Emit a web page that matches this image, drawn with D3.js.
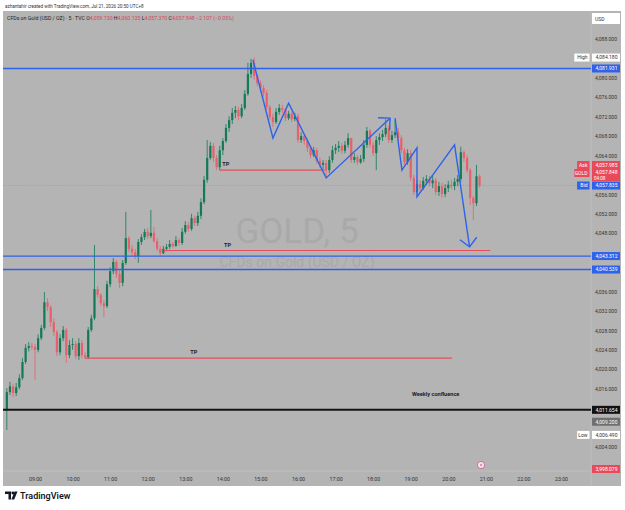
<!DOCTYPE html>
<html>
<head>
<meta charset="utf-8">
<script src="https://cdn.jsdelivr.net/npm/d3@7"></script>
<style>
  html, body { margin: 0; padding: 0; background: #fff; }
  svg { display: block; font-family: Roboto, "Noto Sans", sans-serif; }
</style>
</head>
<body>
<div id="app"></div>
<script>
// ---- 数据 (GOLD 5m, 08:15 起每根 5 分钟) ----
const firstOpen = 4011.6;

const closes = [
  4015.3, 4016.5, 4015.1, 4016.3, 4018.2, 4021.5, 4024.4, 4024.8, 4024.6, 4024.0,
  4026.4, 4028.5, 4033.8, 4032.8, 4029.7, 4027.7, 4023.5, 4026.4, 4028.1, 4022.9,
  4025.0, 4025.2, 4022.7, 4025.4, 4022.9, 4022.5, 4028.1, 4030.5, 4036.5, 4035.3,
  4033.6, 4033.0, 4037.5, 4040.2, 4042.1, 4039.6, 4037.8, 4041.9, 4047.0, 4044.8,
  4044.1, 4043.3, 4046.2, 4047.2, 4048.3, 4047.4, 4048.1, 4046.4, 4044.8, 4043.9,
  4044.8, 4045.2, 4045.8, 4045.4, 4046.6, 4046.0, 4048.3, 4049.7, 4048.9, 4051.1,
  4050.1, 4051.6, 4054.4, 4059.0, 4063.5, 4066.0, 4063.5, 4061.6, 4065.1, 4067.0,
  4069.7, 4071.3, 4072.8, 4073.4, 4072.1, 4073.8, 4076.7, 4080.8, 4083.1, 4080.4,
  4078.9, 4077.9, 4076.9, 4074.0, 4071.9, 4070.9, 4073.0, 4073.8, 4073.4, 4071.7,
  4072.6, 4071.5, 4072.1, 4067.2, 4068.0, 4067.0, 4065.6, 4064.1, 4065.1, 4062.9,
  4062.1, 4062.5, 4061.0, 4063.1, 4065.1, 4065.6, 4066.0, 4065.0, 4066.2, 4067.6,
  4063.1, 4063.7, 4062.6, 4063.3, 4066.2, 4069.1, 4066.2, 4064.5, 4067.2, 4067.8,
  4068.4, 4069.7, 4067.2, 4068.2, 4068.8, 4067.6, 4065.1, 4062.7, 4064.5, 4059.4,
  4056.5, 4058.1, 4057.3, 4058.8, 4059.2, 4058.3, 4058.9, 4056.5, 4057.7, 4056.1,
  4057.3, 4058.0, 4057.7, 4058.6, 4059.2, 4064.7, 4063.5, 4061.0, 4055.3, 4054.2,
  4059.73, 4057.848
];

const highs = [
  4016.1, 4017.4, 4016.9, 4017.2, 4019.0, 4022.3, 4025.2, 4025.6, 4025.4, 4025.2,
  4027.2, 4029.1, 4035.9, 4034.6, 4033.2, 4030.5, 4028.1, 4027.2, 4028.9, 4028.5,
  4026.0, 4026.4, 4025.8, 4026.4, 4026.0, 4023.5, 4028.7, 4031.2, 4045.6, 4037.1,
  4035.7, 4034.3, 4038.2, 4041.0, 4042.9, 4042.5, 4040.4, 4042.5, 4052.4, 4047.4,
  4045.6, 4044.8, 4046.8, 4047.8, 4048.9, 4049.1, 4052.8, 4049.3, 4047.0, 4045.4,
  4045.4, 4045.8, 4046.6, 4046.2, 4047.4, 4047.0, 4049.1, 4050.5, 4050.3, 4052.0,
  4051.6, 4052.4, 4055.2, 4059.8, 4067.2, 4066.8, 4066.6, 4064.1, 4066.0, 4067.6,
  4070.5, 4072.1, 4073.8, 4074.2, 4074.0, 4074.6, 4077.5, 4083.1, 4083.9, 4084.18,
  4080.8, 4079.6, 4078.5, 4077.5, 4074.4, 4072.6, 4073.8, 4074.6, 4074.4, 4073.8,
  4073.2, 4073.0, 4072.8, 4072.6, 4068.8, 4068.4, 4067.6, 4066.0, 4065.8, 4065.6,
  4063.6, 4063.1, 4063.1, 4063.9, 4066.0, 4066.4, 4067.0, 4066.6, 4067.0, 4068.6,
  4067.6, 4064.5, 4064.1, 4064.1, 4067.2, 4069.9, 4069.5, 4066.8, 4068.0, 4068.6,
  4069.3, 4071.5, 4070.1, 4069.1, 4071.3, 4069.7, 4068.2, 4065.6, 4065.3, 4065.1,
  4060.0, 4058.9, 4058.8, 4059.6, 4060.0, 4059.8, 4059.8, 4059.4, 4058.6, 4058.4,
  4058.1, 4058.8, 4059.0, 4059.4, 4060.0, 4065.8, 4065.1, 4064.1, 4061.4, 4055.7,
  4062.1, 4060.135
];

const lows = [
  4007.5, 4014.7, 4014.3, 4014.5, 4015.9, 4017.8, 4021.1, 4023.7, 4024.0, 4017.8,
  4023.5, 4026.0, 4028.1, 4032.0, 4028.7, 4026.9, 4022.7, 4022.9, 4025.8, 4021.3,
  4022.3, 4024.0, 4022.1, 4021.9, 4022.3, 4022.1, 4022.1, 4027.7, 4030.1, 4034.7,
  4033.0, 4030.8, 4032.6, 4036.9, 4039.6, 4038.8, 4036.7, 4037.1, 4041.5, 4044.1,
  4043.5, 4042.7, 4041.9, 4045.6, 4046.6, 4046.8, 4047.0, 4046.0, 4044.3, 4043.3,
  4043.7, 4044.3, 4044.8, 4045.0, 4045.2, 4045.4, 4045.6, 4047.9, 4048.3, 4048.5,
  4049.5, 4049.5, 4050.9, 4054.0, 4058.4, 4063.1, 4062.7, 4061.0, 4061.0, 4064.1,
  4066.6, 4068.9, 4070.5, 4071.7, 4071.3, 4071.7, 4073.4, 4076.3, 4080.0, 4079.6,
  4078.3, 4077.1, 4076.1, 4073.4, 4071.3, 4069.9, 4070.5, 4072.4, 4072.8, 4071.1,
  4071.3, 4070.9, 4071.1, 4066.6, 4066.6, 4066.2, 4064.7, 4063.5, 4063.7, 4062.3,
  4061.4, 4061.2, 4059.6, 4060.4, 4062.5, 4064.3, 4064.7, 4064.3, 4064.5, 4065.6,
  4062.5, 4062.5, 4062.1, 4062.3, 4062.7, 4065.6, 4065.6, 4063.9, 4061.0, 4066.2,
  4067.0, 4067.8, 4066.6, 4066.6, 4067.6, 4067.0, 4064.5, 4062.1, 4062.1, 4058.8,
  4055.9, 4056.1, 4056.7, 4056.9, 4058.0, 4057.7, 4057.3, 4055.9, 4055.7, 4055.3,
  4055.5, 4056.5, 4057.1, 4056.9, 4057.7, 4058.6, 4062.7, 4060.4, 4053.8, 4050.7,
  4053.6, 4057.37
];

// 价格刻度 & 时间刻度
const priceTicks = [4000, 4004, 4008, 4012, 4016, 4020, 4024, 4028, 4032, 4036, 4040, 4044,
  4048, 4052, 4056, 4060, 4064, 4068, 4072, 4076, 4080, 4084, 4088];
const timeTicks = ['09:00', '10:00', '11:00', '12:00', '13:00', '14:00', '15:00', '16:00',
  '17:00', '18:00', '19:00', '20:00', '21:00', '22:00', '23:00'];

// 水平线 (蓝 / 黑)
const blueLevels = [4081.931, 4043.312, 4040.539];
const blackLevels = [4011.654];

// TP 线: 起止时间, 价格, 标签位置
const tpLines = [
  { from: '13:55', to: '16:43', price: 4061.0, labelAt: '13:59' },
  { from: '12:25', to: '21:07', price: 4044.45, labelAt: '14:02' },
  { from: '10:20', to: '20:06', price: 4022.3, labelAt: '13:08' }
];

// 蓝色折线箭头
const zigzags = [
  [['14:48', 4083.7], ['15:20', 4067.6], ['15:45', 4074.8], ['16:45', 4059.4], ['18:27', 4071.7]],
  [['18:35', 4071.7], ['18:46', 4061.0], ['19:10', 4065.6], ['19:10', 4055.5], ['20:10', 4066.2], ['20:34', 4045.2]]
];

const noteText = { time: '19:02', price: 4014.5, text: 'Weekly confluence' };

// 右侧价格标签
const lastPrice = { ask: 4057.985, gold: 4057.848, bid: 4057.835, countdown: '04:08' };
const levelTags = [
  { price: 4084.180, kind: 'white', side: 'High' },
  { price: 4081.931, kind: 'blue' },
  { price: 4043.312, kind: 'blue' },
  { price: 4040.539, kind: 'blue' },
  { price: 4011.654, kind: 'black' },
  { price: 4009.200, kind: 'gray' },
  { price: 4006.490, kind: 'white', side: 'Low' },
  { price: 3998.079, kind: 'red' }
];

const legendValues = [['O', '4,059.730'], ['H', '4,060.135'], ['L', '4,057.370'], ['C', '4,057.848']];
const legendChange = '\u22122.107 (\u22120.05%)';

// ---- 样式 ----
const BG = '#b4b4b4';
const UP = '#127a57';
const DOWN = '#e8606b';
const BLUE = '#2f62ea';
const RED_TAG = '#e84a5a';

const parseT = d3.timeParse('%Y-%m-%d %H:%M');
const T = s => parseT('2026-07-21 ' + s);
const fmtPrice = d3.format(',.3f');

let svg, x, y;
const W = 625, H = 510;
const plot = { left: 3, right: 591, top: 11, bottom: 471 };
let tagCenters = [];

function init() {
  svg = d3.select('#app').append('svg')
    .attr('width', W).attr('height', H);

  x = d3.scaleTime().domain([T('09:00'), T('23:00')]).range([35, 561]);
  y = d3.scaleLinear().domain([4004, 4088]).range([447, 39]);

  // 背景
  svg.append('rect').attr('x', 3).attr('y', 11).attr('width', 618).attr('height', 475).attr('fill', BG);

  svg.append('defs').append('clipPath').attr('id', 'plotClip')
    .append('rect')
    .attr('x', plot.left).attr('y', plot.top)
    .attr('width', plot.right - plot.left).attr('height', plot.bottom - plot.top);

  // 分隔线
  svg.append('line').attr('x1', plot.right).attr('x2', plot.right).attr('y1', 11).attr('y2', 486)
    .attr('stroke', '#c6c6c6').attr('stroke-width', 0.6);
  svg.append('line').attr('x1', 3).attr('x2', plot.right).attr('y1', plot.bottom).attr('y2', plot.bottom)
    .attr('stroke', '#c6c6c6').attr('stroke-width', 0.6);

  const g = svg.append('g').attr('clip-path', 'url(#plotClip)');

  // 水印
  g.append('text').attr('x', 297).attr('y', 243).attr('text-anchor', 'middle')
    .attr('font-size', 35).attr('fill', '#a9a9a9').text('GOLD, 5');
  g.append('text').attr('x', 297).attr('y', 267).attr('text-anchor', 'middle')
    .attr('font-size', 14).attr('fill', '#a9a9a9').text('CFDs on Gold (USD / OZ)');

  // 当前价虚线
  g.append('line').attr('x1', plot.left).attr('x2', plot.right)
    .attr('y1', y(lastPrice.gold)).attr('y2', y(lastPrice.gold))
    .attr('stroke', '#8e8e8e').attr('stroke-width', 0.6).attr('stroke-dasharray', '1,1.5');

  drawCandles(g);
  drawLevels(g);
  drawTags();
  drawAxes();
  drawHeader();
}

function drawCandles(g) {
  const start = T('08:15');
  const candles = closes.map((c, i) => ({
    t: d3.timeMinute.offset(start, 5 * i),
    o: i === 0 ? firstOpen : closes[i - 1],
    h: highs[i],
    l: lows[i],
    c
  }));
  const color = d => (d.c >= d.o ? UP : DOWN);

  const cg = g.append('g').attr('class', 'candles');
  cg.selectAll('line')
    .data(candles)
    .join('line')
    .attr('x1', d => x(d.t)).attr('x2', d => x(d.t))
    .attr('y1', d => y(d.h)).attr('y2', d => y(d.l))
    .attr('stroke', color).attr('stroke-width', 0.8);

  cg.selectAll('rect')
    .data(candles)
    .join('rect')
    .attr('x', d => x(d.t) - 1.1)
    .attr('width', 2.2)
    .attr('y', d => y(Math.max(d.o, d.c)))
    .attr('height', d => Math.max(0.7, Math.abs(y(d.o) - y(d.c))))
    .attr('fill', color);
}

function drawLevels(g) {
  // 蓝线
  g.selectAll('line.blue')
    .data(blueLevels)
    .join('line').attr('class', 'blue')
    .attr('x1', plot.left).attr('x2', plot.right)
    .attr('y1', d => y(d)).attr('y2', d => y(d))
    .attr('stroke', BLUE).attr('stroke-width', 1.3);

  g.selectAll('line.black')
    .data(blackLevels)
    .join('line').attr('class', 'black')
    .attr('x1', plot.left).attr('x2', plot.right)
    .attr('y1', d => y(d)).attr('y2', d => y(d))
    .attr('stroke', '#131313').attr('stroke-width', 2);

  // TP 线
  g.selectAll('line.tp')
    .data(tpLines)
    .join('line').attr('class', 'tp')
    .attr('x1', d => x(T(d.from))).attr('x2', d => x(T(d.to)))
    .attr('y1', d => y(d.price)).attr('y2', d => y(d.price))
    .attr('stroke', '#e5505c').attr('stroke-width', 1.1);

  g.selectAll('text.tp')
    .data(tpLines)
    .join('text').attr('class', 'tp')
    .attr('x', d => x(T(d.labelAt))).attr('y', d => y(d.price) - 4)
    .attr('font-size', 5.5).attr('font-weight', 700).attr('fill', '#222')
    .text('TP');

  g.append('text')
    .attr('x', x(T(noteText.time))).attr('y', y(noteText.price))
    .attr('font-size', 5.6).attr('font-weight', 700).attr('fill', '#1e1e1e')
    .text(noteText.text);

  // 蓝色折线 + 箭头
  const line = d3.line().x(d => x(T(d[0]))).y(d => y(d[1]));
  zigzags.forEach(pts => {
    g.append('path').attr('d', line(pts))
      .attr('fill', 'none').attr('stroke', BLUE).attr('stroke-width', 1.4)
      .attr('stroke-linejoin', 'miter');

    const a = pts[pts.length - 2], b = pts[pts.length - 1];
    const bx = x(T(b[0])), by = y(b[1]);
    const ang = Math.atan2(y(a[1]) - by, x(T(a[0])) - bx);
    const len = 12;
    const wing = d => [bx + len * Math.cos(ang + d), by + len * Math.sin(ang + d)];
    g.append('path')
      .attr('d', d3.line()([wing(Math.PI / 4), [bx, by], wing(-Math.PI / 4)]))
      .attr('fill', 'none').attr('stroke', BLUE).attr('stroke-width', 1.4);
  });

  // 小图标
  svg.append('circle').attr('cx', 481).attr('cy', 465).attr('r', 3.6)
    .attr('fill', '#f4e6ee').attr('stroke', '#c94c86').attr('stroke-width', 0.7);
  svg.append('path').attr('d', 'M481.8,462.6 L479.9,465.4 L481.3,465.4 L480.4,467.6 L482.4,464.6 L481.0,464.6 Z')
    .attr('fill', '#c94c86');
}

function drawAxes() {
  const yAxis = d3.axisRight(y)
    .tickValues(priceTicks)
    .tickFormat(fmtPrice)
    .tickSize(0);

  const ya = svg.insert('g', '.tags').attr('transform', `translate(${plot.right},0)`).call(yAxis);
  ya.select('.domain').remove();
  ya.selectAll('text')
    .attr('x', 26).attr('text-anchor', 'end')
    .attr('font-size', 5).attr('fill', '#333')
    .attr('font-family', 'Roboto, sans-serif');
  // 被标签遮住的刻度不显示
  ya.selectAll('.tick')
    .filter(d => tagCenters.some(c => Math.abs(y(d) - c[0]) < c[1] / 2 + 3))
    .remove();

  const xAxis = d3.axisBottom(x)
    .tickValues(timeTicks.map(T))
    .tickFormat(d3.timeFormat('%H:%M'))
    .tickSize(0);

  const xa = svg.append('g').attr('transform', `translate(0,${plot.bottom + 3})`).call(xAxis);
  xa.select('.domain').remove();
  xa.selectAll('text')
    .attr('font-size', 5.3).attr('fill', '#333')
    .attr('font-family', 'Roboto, sans-serif');
}

// 价格标签
function tagBox(tg, cy, text, fill, color) {
  tagCenters.push([cy, 8]);
  tg.append('rect').attr('x', plot.right + 1).attr('y', cy - 4).attr('width', 28).attr('height', 8)
    .attr('fill', fill);
  tg.append('text').attr('x', 617.5).attr('y', cy + 1.8).attr('text-anchor', 'end')
    .attr('font-size', 5).attr('fill', color).text(text);
}

function sideBox(tg, cy, text, fill, color) {
  const w = text.length * 2.8 + 4;
  tg.append('rect').attr('x', plot.right - 1.5 - w).attr('y', cy - 4).attr('width', w).attr('height', 8)
    .attr('fill', fill);
  tg.append('text').attr('x', plot.right - 3.5).attr('y', cy + 1.8).attr('text-anchor', 'end')
    .attr('font-size', 5).attr('fill', color).text(text);
}

function drawTags() {
  const tg = svg.append('g').attr('class', 'tags');
  const styles = {
    white: ['#ffffff', '#333'],
    blue: [BLUE, '#fff'],
    black: ['#111', '#fff'],
    gray: ['#6f6f6f', '#fff'],
    red: [RED_TAG, '#fff']
  };

  levelTags.forEach(d => {
    const cy = Math.min(y(d.price), plot.bottom - 2);
    const [fill, color] = styles[d.kind];
    tagBox(tg, cy, fmtPrice(d.price), fill, color);
    if (d.side) sideBox(tg, cy, d.side, '#ffffff', '#333');
  });

  // Ask / GOLD / Bid 叠放
  const bidY = y(lastPrice.bid);
  const goldY = bidY - 10.5;
  const askY = goldY - 10;

  tagCenters.push([goldY, 12]);
  tg.append('rect').attr('x', plot.right + 1).attr('y', goldY - 6).attr('width', 28).attr('height', 12)
    .attr('fill', RED_TAG);
  tg.append('text').attr('x', 617.5).attr('y', goldY - 0.8).attr('text-anchor', 'end')
    .attr('font-size', 5).attr('fill', '#fff').text(fmtPrice(lastPrice.gold));
  tg.append('text').attr('x', 594).attr('y', goldY + 4.6)
    .attr('font-size', 4.6).attr('fill', '#fff').text(lastPrice.countdown);
  sideBox(tg, goldY - 2, 'GOLD', RED_TAG, '#fff');

  tagBox(tg, askY, fmtPrice(lastPrice.ask), RED_TAG, '#fff');
  sideBox(tg, askY, 'Ask', RED_TAG, '#fff');

  tagBox(tg, bidY, fmtPrice(lastPrice.bid), BLUE, '#fff');
  sideBox(tg, bidY, 'Bid', BLUE, '#fff');

  // USD
  tagCenters.push([18.5, 11]);
  tg.append('rect').attr('x', plot.right + 1).attr('y', 13).attr('width', 28).attr('height', 11)
    .attr('fill', '#fff');
  tg.append('text').attr('x', 595).attr('y', 20.5).attr('font-size', 5).attr('fill', '#333').text('USD');
}

function drawHeader() {
  svg.append('text').attr('x', 5).attr('y', 7.5)
    .attr('font-size', 4.6).attr('fill', '#333')
    .text('azhantahir created with TradingView.com, Jul 21, 2026 20:50 UTC+8');

  const t = svg.append('text').attr('x', 7).attr('y', 19.5).attr('font-size', 5.2).attr('fill', '#222');
  t.append('tspan').text('CFDs on Gold (USD / OZ) \u00b7 5 \u00b7 TVC  ');
  legendValues.forEach(([k, v]) => {
    t.append('tspan').attr('fill', '#222').text(' ' + k);
    t.append('tspan').attr('fill', '#d9475a').text(v);
  });
  t.append('tspan').attr('fill', '#d9475a').text('  ' + legendChange);

  // TradingView 标志
  const logo = svg.append('g').attr('fill', '#131722');
  logo.append('path').attr('d', 'M5,491.5 H11 V499.5 H8.5 V494 H5 Z');
  logo.append('circle').attr('cx', 12.8).attr('cy', 493).attr('r', 1.4);
  logo.append('path').attr('d', 'M14.5,491.5 H17.5 L14.2,499.5 H11.4 Z');
  svg.append('text').attr('x', 20).attr('y', 499.3)
    .attr('font-size', 9).attr('font-weight', 600).attr('fill', '#131722')
    .text('TradingView');
}

// 启动
init();
</script>
</body>
</html>
